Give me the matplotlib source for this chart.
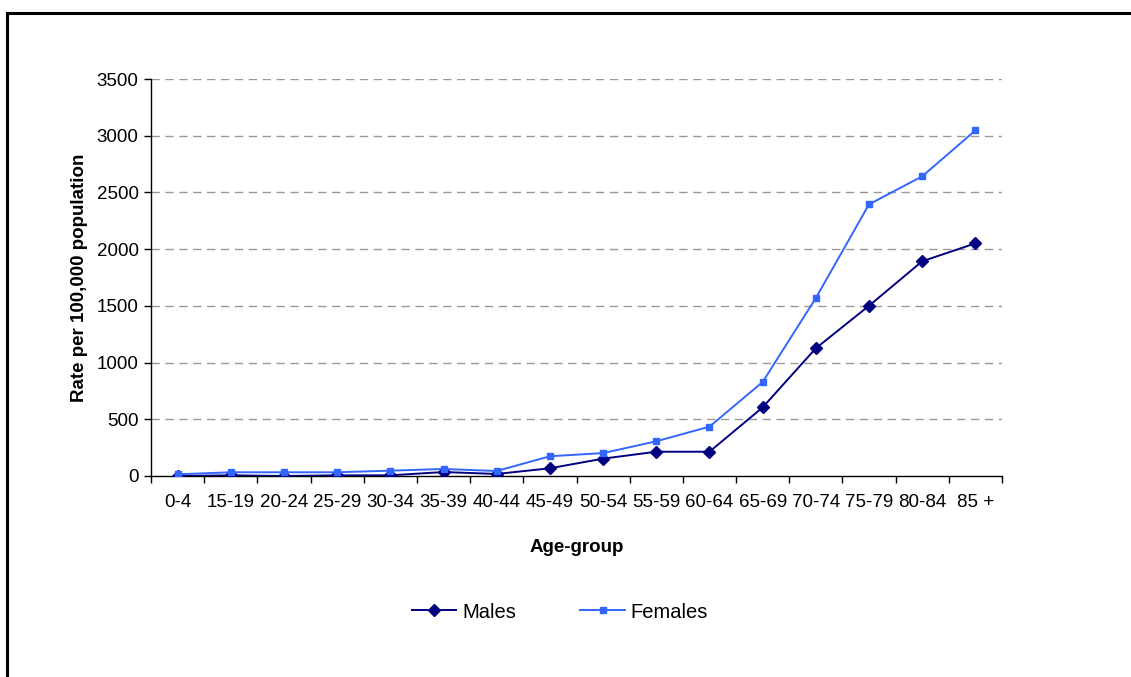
import matplotlib
matplotlib.use("Agg")
import matplotlib.pyplot as plt
from matplotlib.patches import Rectangle
from matplotlib.lines import Line2D

plt.rcParams['font.family'] = ['Liberation Sans', 'DejaVu Sans']

age_groups = ["0-4", "15-19", "20-24", "25-29", "30-34", "35-39", "40-44", "45-49",
              "50-54", "55-59", "60-64", "65-69", "70-74", "75-79", "80-84", "85 +"]
males = [0, 6, 0, 6, 6, 35, 18, 68, 153, 214, 214, 605, 1126, 1501, 1893, 2051]
females = [15, 33, 33, 33, 47, 62, 44, 174, 202, 306, 435, 829, 1569, 2395, 2642, 3047]
y_ticks = [0, 500, 1000, 1500, 2000, 2500, 3000, 3500]

male_color = "#000080"
female_color = "#3366FF"

fig = plt.figure(figsize=(11.31, 6.77), dpi=100)
fig.patch.set_facecolor("white")

# outer frame (open at right and bottom edges)
fig.add_artist(Rectangle((6.5 / 1131, -0.1), 1.2, (677 - 12.5) / 677 + 0.1,
                         transform=fig.transFigure, fill=False,
                         edgecolor="black", linewidth=2.2))

ax = fig.add_axes([151 / 1131, (677 - 476) / 677, (1002 - 151) / 1131, (476 - 79) / 677])

x = list(range(len(age_groups)))
ax.plot(x, males, color=male_color, linewidth=1.4, marker="D", markersize=6.5,
        markerfacecolor=male_color, markeredgecolor=male_color, label="Males", zorder=3)
ax.plot(x, females, color=female_color, linewidth=1.4, marker="s", markersize=5,
        markerfacecolor=female_color, markeredgecolor=female_color, label="Females", zorder=3)

ax.set_xlim(-0.5, len(age_groups) - 0.5)
ax.set_ylim(0, 3500)
ax.set_yticks(y_ticks)
ax.set_yticklabels([str(v) for v in y_ticks], fontsize=13.5)

# category labels between boundary ticks
ax.set_xticks(x)
ax.set_xticklabels(age_groups, fontsize=13.5)
ax.tick_params(axis="x", which="major", length=0, pad=13)
ax.set_xticks([i - 0.5 for i in range(len(age_groups) + 1)], minor=True)
ax.tick_params(axis="x", which="minor", length=5, width=1, direction="out")
ax.tick_params(axis="y", length=5, width=1, direction="out", pad=4)

for v in y_ticks[1:]:
    ax.axhline(v, color="#999999", linewidth=1, linestyle=(0, (6, 4)), zorder=1)

ax.spines["top"].set_visible(False)
ax.spines["right"].set_visible(False)
ax.spines["left"].set_linewidth(1)
ax.spines["bottom"].set_linewidth(1)

ax.set_ylabel("Rate per 100,000 population", fontsize=13.5, fontweight="bold", labelpad=6)
ax.set_xlabel("Age-group", fontsize=13.5, fontweight="bold", labelpad=20)

handles = [Line2D([], [], color=male_color, linewidth=1.4, marker="D", markersize=6.5),
           Line2D([], [], color=female_color, linewidth=1.4, marker="s", markersize=5)]
fig.legend(handles, ["Males", "Females"], loc="center", bbox_to_anchor=(560 / 1131, 1 - 612 / 677),
           ncol=2, frameon=False, fontsize=14.5, handlelength=2.2, columnspacing=3.2,
           handletextpad=0.3)

fig.savefig("out.png", dpi=100, facecolor="white")
